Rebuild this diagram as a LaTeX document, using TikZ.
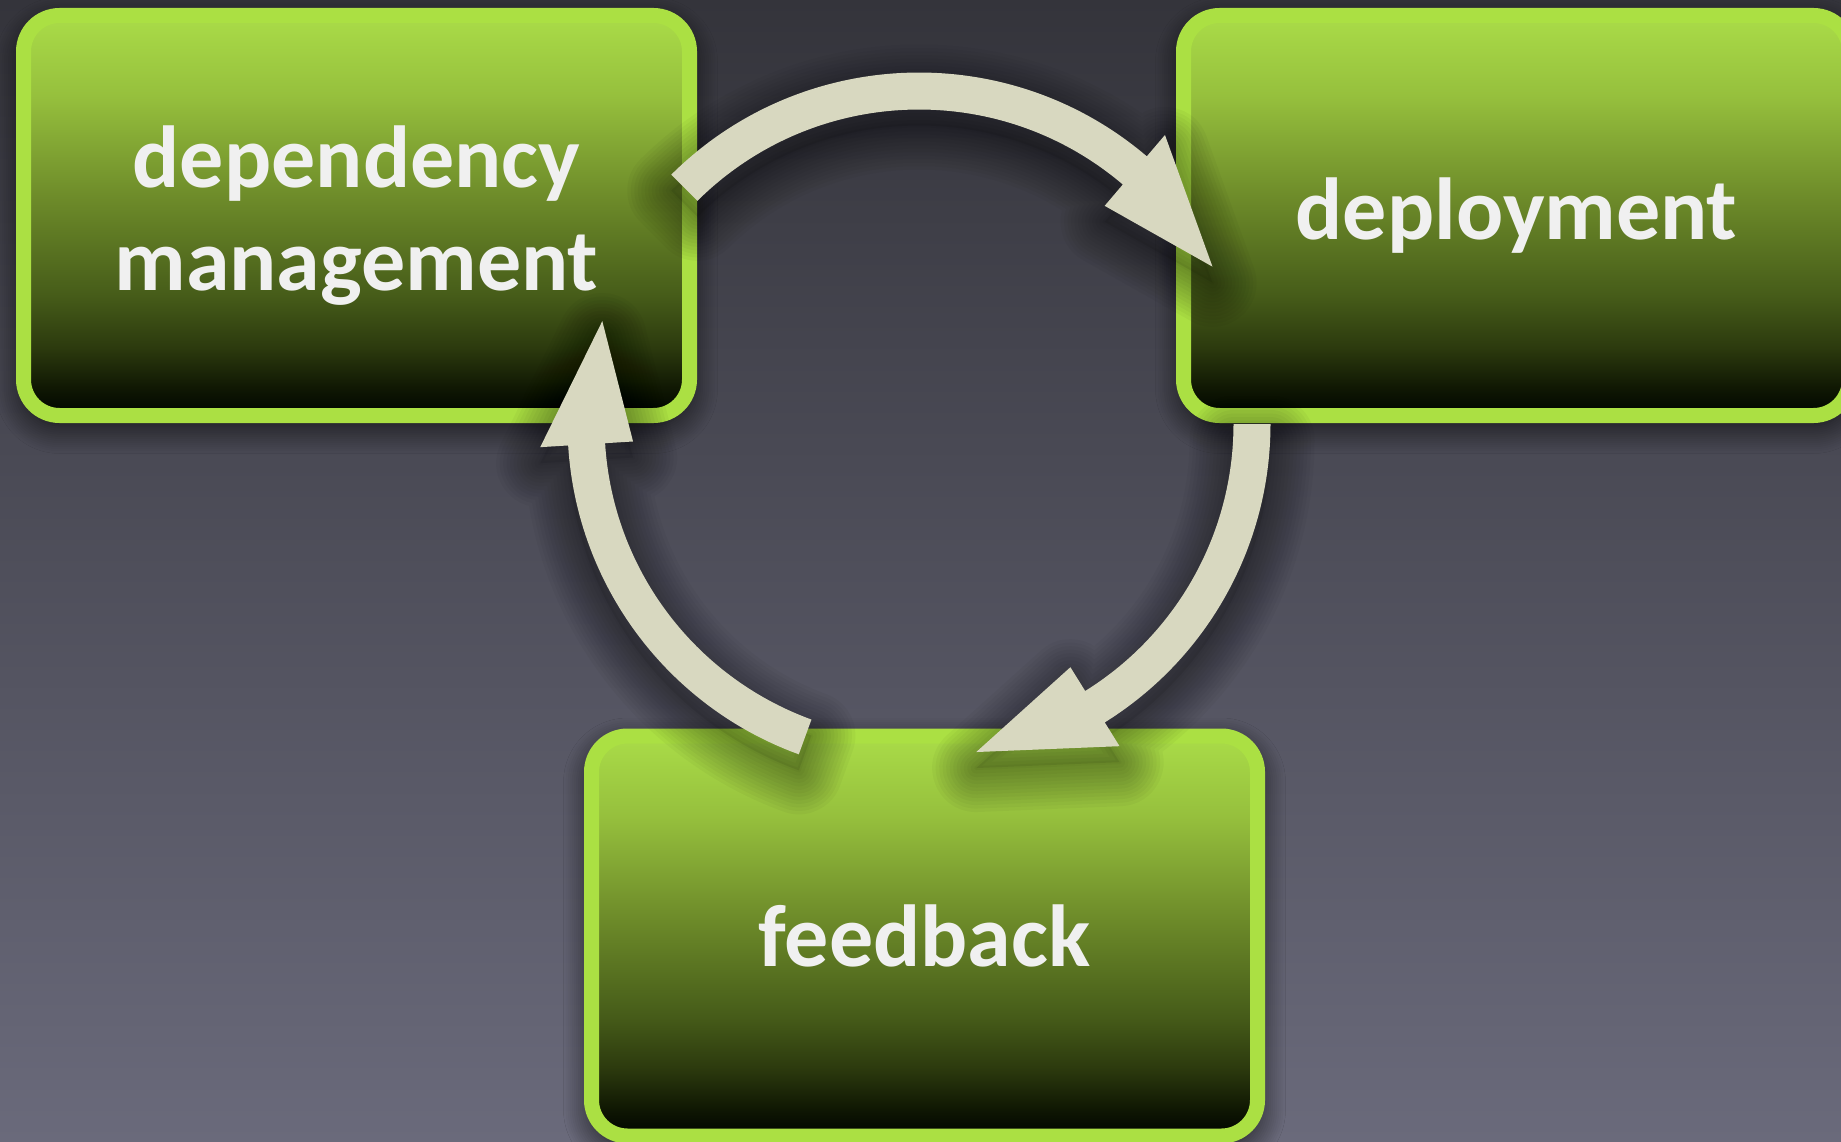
\documentclass[tikz,border=0pt]{standalone}
\usepackage{fontspec}
\setmainfont{Carlito}
\usetikzlibrary{calc,shadows.blur}
\definecolor{bgtop}{RGB}{52,52,59}
\definecolor{bgmid}{RGB}{85,85,97}
\definecolor{bgbot}{RGB}{106,106,123}
\definecolor{limeborder}{RGB}{171,224,67}
\definecolor{arrowc}{RGB}{216,216,192}
\definecolor{textc}{RGB}{240,240,240}
\definecolor{gA}{RGB}{0,4,0}
\definecolor{gB}{RGB}{16,24,3}
\definecolor{gC}{RGB}{44,58,14}
\definecolor{gD}{RGB}{70,92,25}
\definecolor{gE}{RGB}{110,140,42}
\definecolor{gF}{RGB}{150,192,61}
\definecolor{gG}{RGB}{170,220,72}
\pgfdeclareverticalshading{boxgrad}{100bp}{color(0bp)=(gA); color(25bp)=(gA); color(28.5bp)=(gB); color(33.5bp)=(gC); color(40bp)=(gD); color(52.5bp)=(gE); color(65bp)=(gF); color(75bp)=(gG); color(100bp)=(gG)}
% outline of a curved arrow on the ring: #1 tail angle, #2 head base angle, #3 tip angle, #4 centre
\newcommand\arrowoutline[4]{($(#4)+(#1:351.5)$) arc[start angle=#1, end angle=#2, radius=351.5]
    -- ($(#4)+(#2:379.5)$) -- ($(#4)+(#3:333)$) -- ($(#4)+(#2:286.5)$)
    -- ($(#4)+(#2:314.5)$) arc[start angle=#2, end angle=#1, radius=314.5] -- cycle}
\newcommand\cyclearrow[3]{%
  \foreach \w in {88,81,74,67,60,53,46,39,32,25,18,11,4}{\draw[arrowshadow, line width=\w pt] \arrowoutline{#1}{#2}{#3}{ringsh};}
  \fill[black, opacity=0.08] \arrowoutline{#1}{#2}{#3}{ringsh};
  \fill[arrowc] \arrowoutline{#1}{#2}{#3}{ring};}
\begin{document}
\begin{tikzpicture}[x=1pt,y=1pt,
  stagebox/.style={rounded corners=36pt, draw=limeborder, line width=15pt,
    shading=boxgrad, shading angle=0, minimum width=666pt, minimum height=400pt,
    inner sep=0pt, text=textc, align=center,
    font=\bfseries\fontsize{88}{103}\selectfont,
    blur shadow={shadow xshift=0pt, shadow yshift=-10pt, shadow blur radius=28pt, shadow opacity=80, shadow blur steps=14}},
  arrowshadow/.style={black, opacity=0.03, line join=round}]
\useasboundingbox (0,0) rectangle (1841,-1142);
\clip (0,0) rectangle (1841,-1142);
\shade[top color=bgtop, middle color=bgmid, bottom color=bgbot] (0,0) rectangle (1841,-1142);
\coordinate (ring) at (919,-424);
\coordinate (ringsh) at (919,-440);
\node[stagebox] (dep) at (356.5,-215.5) {dependency\\management};
\node[stagebox] (deploy) at (1516.5,-215.5) {deployment};
\node[stagebox] (feed) at (924.5,-936) {feedback};
% dependency management -> deployment
\cyclearrow{134.8}{49.6}{28.2}
% deployment -> feedback
\cyclearrow{0}{-58.1}{-80.1}
% feedback -> dependency management
\cyclearrow{250}{183.5}{162}
\end{tikzpicture}
\end{document}
